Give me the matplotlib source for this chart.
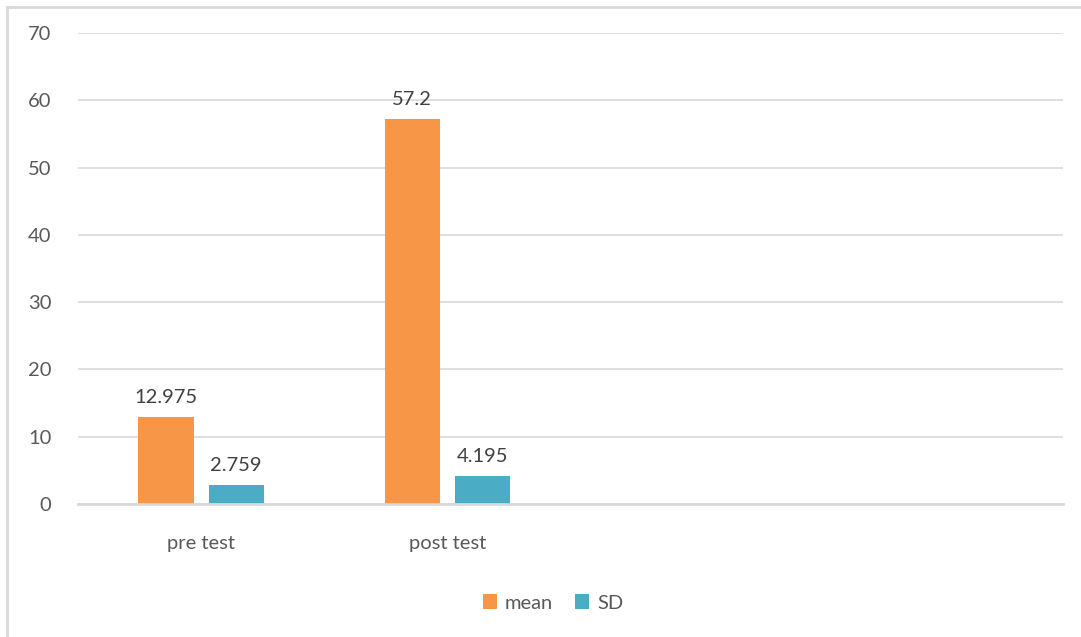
import matplotlib
matplotlib.use("Agg")
import matplotlib.pyplot as plt
from matplotlib.lines import Line2D
import numpy as np

categories = ["pre test", "post test", "", ""]
mean_vals = [12.975, 57.2, None, None]
sd_vals = [2.759, 4.195, None, None]
mean_labels = ["12.975", "57.2"]
sd_labels = ["2.759", "4.195"]
yticks = [0, 10, 20, 30, 40, 50, 60, 70]

ORANGE = "#F79646"
BLUE = "#4BACC6"
TXT = "#595959"
GRID = "#D9D9D9"
FS = 14.5

plt.rcParams["font.family"] = ["Lato", "DejaVu Sans"]

fig = plt.figure(figsize=(10.81, 6.37), dpi=100)
ax = fig.add_axes([78/1081, 133/637, (1063-78)/1081, (504-33)/637])

x = np.arange(len(categories))
w = 0.224
off = 0.1425
mx = [xi for xi, v in zip(x, mean_vals) if v is not None]
mv = [v for v in mean_vals if v is not None]
sx = [xi for xi, v in zip(x, sd_vals) if v is not None]
sv = [v for v in sd_vals if v is not None]
b1 = ax.bar(np.array(mx) - off, mv, w, color=ORANGE, label="mean", zorder=3)
b2 = ax.bar(np.array(sx) + off, sv, w, color=BLUE, label="SD", zorder=3)

for rect, lab in zip(b1, mean_labels):
    ax.annotate(lab, (rect.get_x() + rect.get_width()/2, rect.get_height()),
                xytext=(0, 8), textcoords="offset points", ha="center", va="bottom",
                fontsize=FS, color="#404040")
for rect, lab in zip(b2, sd_labels):
    ax.annotate(lab, (rect.get_x() + rect.get_width()/2, rect.get_height()),
                xytext=(0, 8), textcoords="offset points", ha="center", va="bottom",
                fontsize=FS, color="#404040")

ax.set_xlim(-0.5, 3.5)
ax.set_ylim(0, 70)
ax.set_yticks(yticks)
ax.set_yticklabels([str(t) for t in yticks])
ax.set_xticks(x)
ax.set_xticklabels(categories)
ax.tick_params(axis="y", length=0, pad=19, labelsize=FS, labelcolor=TXT)
ax.tick_params(axis="x", length=0, pad=22, labelsize=FS, labelcolor=TXT)
ax.grid(axis="y", color=GRID, linewidth=1.2, zorder=0)
for s in ["top", "right", "left"]:
    ax.spines[s].set_visible(False)
ax.spines["bottom"].set_color(GRID)
ax.spines["bottom"].set_linewidth(2)
ax.spines["bottom"].set_zorder(4)

leg = fig.legend(handles=[b1, b2], labels=["mean", "SD"], loc="center",
                 bbox_to_anchor=(553/1081, 1 - 603/637), ncol=2, frameon=False,
                 fontsize=FS, handlelength=0.7, handleheight=0.7,
                 handletextpad=0.4, columnspacing=1.1)
for t in leg.get_texts():
    t.set_color(TXT)

# outer frame (left and top edges visible)
fig.add_artist(Line2D([7/1081, 7/1081], [0, 1 - 7/637], transform=fig.transFigure,
                      color=GRID, linewidth=2))
fig.add_artist(Line2D([7/1081, 1], [1 - 7/637, 1 - 7/637], transform=fig.transFigure,
                      color=GRID, linewidth=2))

fig.savefig("out.png", dpi=100)
